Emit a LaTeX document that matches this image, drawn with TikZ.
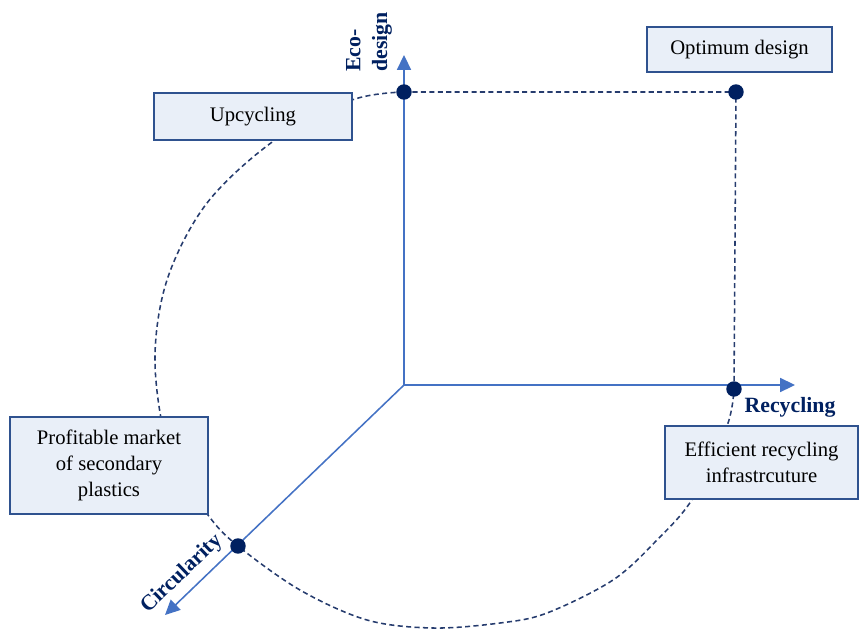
\documentclass[tikz,border=0pt]{standalone}
\usepackage{fontspec}
\setmainfont{Liberation Serif}
\usepackage{tikz}
\usetikzlibrary{arrows.meta, positioning}
\definecolor{axisblue}{RGB}{68,114,196}
\definecolor{navy}{RGB}{0,32,96}
\definecolor{boxfill}{RGB}{233,239,248}
\definecolor{boxline}{RGB}{47,82,143}
\definecolor{trailblue}{RGB}{38,60,110}

\begin{document}
\begin{tikzpicture}[x=0.025cm, y=-0.025cm,
  box/.style={draw=boxline, fill=boxfill, line width=0.9pt, align=center, inner sep=0pt,
    font=\fontsize{14.7}{18.4}\selectfont},
  axis/.style={draw=axisblue, line width=1.1pt, -{Triangle[length=10.6pt, width=10pt]}},
  dot/.style={circle, fill=navy, inner sep=0pt, minimum size=11pt},
  trail/.style={draw=trailblue, line width=1.1pt, dash pattern=on 3.6pt off 2.4pt},
  axlabel/.style={text=navy, align=left, font=\fontsize{15.5}{19}\selectfont\bfseries}]
\useasboundingbox (0,0) rectangle (860,632);

\coordinate (o) at (404,385);
\coordinate (ytip) at (404,55);
\coordinate (xtip) at (795,385);
\coordinate (ztip) at (165,615);

\coordinate (eco) at (404,92);
\coordinate (opt) at (736,92);
\coordinate (rec) at (734,389);
\coordinate (circ) at (238,546);

% dashed loop round the three axes
\draw[trail] (eco) -- (opt) -- (rec);
\draw[trail] plot[smooth, tension=0.55] coordinates {(eco) (352,100) (275,140) (207,203)
  (167,280) (155,363) (170,455) (208,515) (circ) (300,590) (367,620) (433,628) (500,623)
  (547,613) (613,580) (657,540) (693,498) (727,426) (rec)};

\draw[axis] (o) -- (ytip);
\draw[axis] (o) -- (xtip);
\draw[axis] (o) -- (ztip);

\foreach \p in {eco, opt, rec, circ}
  \node[dot] (\p dot) at (\p) {};

\node[axlabel, rotate=90] (ylab) at (369,42) {Eco-\\design};
\node[axlabel] (xlab) at (790,407) {Recycling};
\node[axlabel, rotate=43.9] (zlab) at (182,574) {Circularity};

\node[box, minimum width=4.95cm, minimum height=1.175cm] (upc) at (253,116.5) {Upcycling};
\node[box, minimum width=4.625cm, minimum height=1.125cm] (optbox) at (739.5,49.5) {Optimum design};
\node[box, minimum width=4.95cm, minimum height=2.425cm] (market) at (109,465.5)
  {Profitable market\\of secondary\\plastics};
\node[box, minimum width=4.825cm, minimum height=1.825cm] (infra) at (761.5,462.5)
  {Efficient recycling\\infrastrcuture};
\end{tikzpicture}
\end{document}
